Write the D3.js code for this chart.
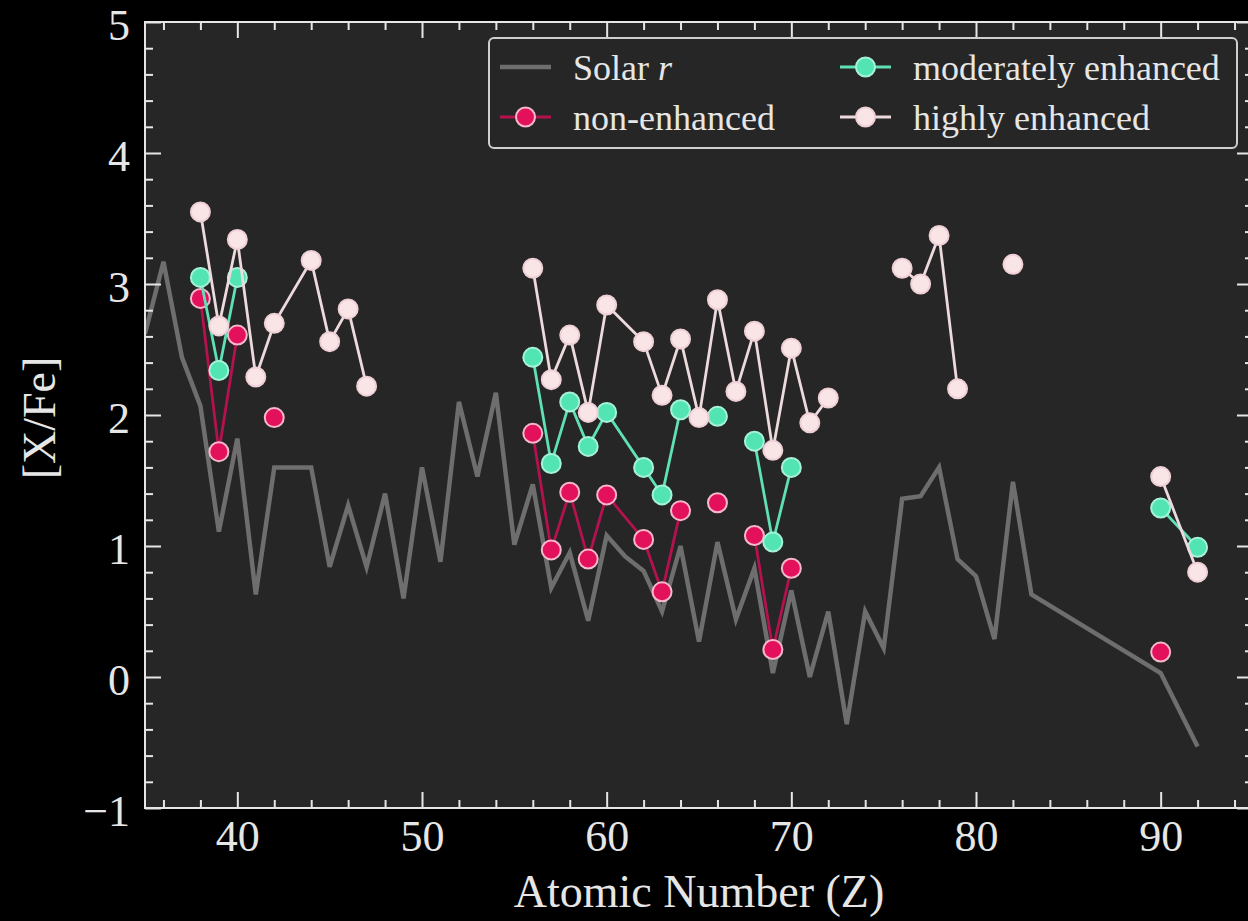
<!DOCTYPE html>
<html>
<head>
<meta charset="utf-8">
<script src="https://cdn.jsdelivr.net/npm/d3@7"></script>
<style>
    html, body { margin: 0; padding: 0; background: #000; }
    svg { display: block; }
</style>
</head>
<body>
<svg id="scene"></svg>
<script>
// solar r-process pattern
let zSolar = [35, 36, 37, 38, 39, 40, 41, 42, 43, 44, 45, 46, 47, 48, 49, 50, 51, 52, 53, 54, 55, 56, 57, 58, 59,
    60, 61, 62, 63, 64, 65, 66, 67, 68, 69, 70, 71, 72, 73, 74, 75, 76, 77, 78, 79, 80, 81, 82, 83, 90, 92]
let solarR = [2.62, 3.17, 2.44, 2.07, 1.11, 1.82, 0.63, 1.60, 1.60, 1.60, 0.84, 1.31, 0.84, 1.40, 0.60, 1.60, 0.88, 2.10, 1.53, 2.17, 1.01, 1.47, 0.68, 0.95, 0.43,
    1.08, 0.92, 0.81, 0.50, 1.00, 0.27, 1.03, 0.44, 0.83, 0.03, 0.66, 0.00, 0.50, -0.36, 0.50, 0.22, 1.36, 1.38, 1.60, 0.90, 0.77, 0.29, 1.49, 0.63, 0.03, -0.53]

// elements of the star groups (null = no value, breaks the line)
let zObs = [38, 39, 40, 41, 42, 44, 45, 46, 47, 48, 49, 50, 51, 52, 53, 54, 55, 56, 57, 58, 59, 60,
    62, 63, 64, 65, 66, 67, 68, 69, 70, 71, 72, 73, 74, 75, 76, 77, 78, 79, 80, 81, 82, 83, 90, 92]
let nonEnhanced = [2.89, 1.72, 2.61, null, 1.98, null, null, null, null, null, null, null, null, null, null, null, null, 1.86, 0.97, 1.41, 0.90, 1.39,
    1.05, 0.65, 1.27, null, 1.33, null, 1.08, 0.21, 0.83, null, null, null, null, null, null, null, null, null, null, null, null, null, 0.19, null]
let moderate = [3.05, 2.34, 3.05, null, null, null, null, null, null, null, null, null, null, null, null, null, null, 2.44, 1.63, 2.10, 1.76, 2.02,
    1.60, 1.39, 2.04, null, 1.99, null, 1.80, 1.03, 1.60, null, null, null, null, null, null, null, null, null, null, null, null, null, 1.29, 0.99]
let highly = [3.55, 2.68, 3.34, 2.29, 2.70, 3.18, 2.56, 2.81, 2.22, null, null, null, null, null, null, null, null, 3.12, 2.27, 2.61, 2.02, 2.84,
    2.56, 2.15, 2.58, 1.98, 2.88, 2.18, 2.64, 1.73, 2.51, 1.94, 2.13, null, null, null, 3.12, 3.00, 3.37, 2.20, null, null, 3.15, null, 1.53, 0.80]

let xMajor = [40, 50, 60, 70, 80, 90]
let yMajor = [-1, 0, 1, 2, 3, 4, 5]

let groups = [
    {name: 'non-enhanced', values: nonEnhanced, line: '#b3124f', fill: '#e3115b', edge: '#f6b8cb'},
    {name: 'moderately enhanced', values: moderate, line: '#5fe0b6', fill: '#52e4b3', edge: '#a6f2d8'},
    {name: 'highly enhanced', values: highly, line: '#eddadd', fill: '#f9e4e6', edge: '#efd0d7'}
]

function init() {
    let width = 1248,
        height = 921,
        left = 145, right = 1253, top = 22, bottom = 808,
        fontFam = '"Liberation Serif", "Times New Roman", serif',
        fg = '#e6e6e6',
        svg = d3.select('#scene').attr('width', width).attr('height', height)

    let xScale = d3.scaleLinear().domain([35, 95]).range([left, right])
    let yScale = d3.scaleLinear().domain([-1, 5]).range([bottom, top])

    svg.append('rect').attr('width', width).attr('height', height).attr('fill', '#000')
    svg.append('rect')
        .attr('x', left).attr('y', top)
        .attr('width', right - left).attr('height', bottom - top)
        .attr('fill', '#262626')

    svg.append('clipPath').attr('id', 'plotclip')
        .append('rect')
        .attr('x', left).attr('y', top)
        .attr('width', right - left).attr('height', bottom - top)

    let plot = svg.append('g').attr('clip-path', 'url(#plotclip)')

    // solar line
    let solarLine = d3.line()
        .x((d, i) => xScale(zSolar[i]))
        .y(d => yScale(d))
    plot.append('path')
        .datum(solarR)
        .attr('d', solarLine)
        .attr('fill', 'none')
        .attr('stroke', '#6e6e6e')
        .attr('stroke-width', 4.5)
        .attr('stroke-linejoin', 'miter')

    let obsLine = d3.line()
        .defined(d => d !== null)
        .x((d, i) => xScale(zObs[i]))
        .y(d => yScale(d))

    groups.forEach(g => {
        plot.append('path')
            .datum(g.values)
            .attr('d', obsLine)
            .attr('fill', 'none')
            .attr('stroke', g.line)
            .attr('stroke-width', 2.8)

        plot.selectAll('circle.' + g.name.replace(/ /g, '_'))
            .data(g.values.map((v, i) => ({z: zObs[i], v: v})).filter(d => d.v !== null))
            .enter()
            .append('circle')
            .attr('class', g.name.replace(/ /g, '_'))
            .attr('cx', d => xScale(d.z))
            .attr('cy', d => yScale(d.v))
            .attr('r', 9.5)
            .attr('fill', g.fill)
            .attr('stroke', g.edge)
            .attr('stroke-width', 2)
    })

    // axes, ticks inward on all sides
    let xMinor = d3.range(36, 95, 2).filter(t => xMajor.indexOf(t) < 0)
    let yMinor = d3.range(-1, 5.001, 0.2).map(t => +t.toFixed(1)).filter(t => yMajor.indexOf(t) < 0)

    function styleAxis(g) {
        g.select('.domain').remove()
        g.selectAll('line').attr('stroke', fg).attr('stroke-width', 2)
        g.selectAll('text').attr('fill', fg).attr('font-family', fontFam).attr('font-size', 44)
    }

    svg.append('g').attr('transform', `translate(0,${bottom})`)
        .call(d3.axisBottom(xScale).tickValues(xMajor).tickSize(-16).tickPadding(12).tickFormat(d3.format('d')))
        .call(styleAxis)
    svg.append('g').attr('transform', `translate(0,${bottom})`)
        .call(d3.axisBottom(xScale).tickValues(xMinor).tickSize(-8).tickFormat(''))
        .call(styleAxis)
    svg.append('g').attr('transform', `translate(0,${top})`)
        .call(d3.axisTop(xScale).tickValues(xMajor).tickSize(-16).tickFormat(''))
        .call(styleAxis)
    svg.append('g').attr('transform', `translate(0,${top})`)
        .call(d3.axisTop(xScale).tickValues(xMinor).tickSize(-8).tickFormat(''))
        .call(styleAxis)

    svg.append('g').attr('class', 'yaxis').attr('transform', `translate(${left},0)`)
        .call(d3.axisLeft(yScale).tickValues(yMajor).tickSize(-16).tickPadding(15).tickFormat(d3.format('d')))
        .call(styleAxis)
    svg.selectAll('.yaxis text').attr('dy', '0.4em')
    svg.append('g').attr('transform', `translate(${left},0)`)
        .call(d3.axisLeft(yScale).tickValues(yMinor).tickSize(-8).tickFormat(''))
        .call(styleAxis)
    svg.append('g').attr('transform', `translate(${right},0)`)
        .call(d3.axisRight(yScale).tickValues(yMajor).tickSize(-16).tickFormat(''))
        .call(styleAxis)
    svg.append('g').attr('transform', `translate(${right},0)`)
        .call(d3.axisRight(yScale).tickValues(yMinor).tickSize(-8).tickFormat(''))
        .call(styleAxis)

    // frame
    svg.append('rect')
        .attr('x', left).attr('y', top)
        .attr('width', right - left).attr('height', bottom - top)
        .attr('fill', 'none')
        .attr('stroke', fg)
        .attr('stroke-width', 2)

    // axis labels
    svg.append('text')
        .attr('x', (left + right) / 2)
        .attr('y', 907)
        .attr('text-anchor', 'middle')
        .attr('fill', fg)
        .attr('font-family', fontFam)
        .attr('font-size', 46)
        .text('Atomic Number (Z)')

    svg.append('text')
        .attr('transform', 'translate(55,418) rotate(-90)')
        .attr('text-anchor', 'middle')
        .attr('fill', fg)
        .attr('font-family', fontFam)
        .attr('font-size', 46)
        .text('[X/Fe]')

    // legend
    let legend = svg.append('g')
    legend.append('rect')
        .attr('x', 489).attr('y', 38)
        .attr('width', 748).attr('height', 110)
        .attr('rx', 5)
        .attr('fill', '#262626')
        .attr('stroke', '#cfcfcf')
        .attr('stroke-width', 2)

    let items = [
        {label: 'Solar', x: 500, y: 67, solar: true},
        {label: groups[0].name, x: 500, y: 117, g: groups[0]},
        {label: groups[1].name, x: 840, y: 67, g: groups[1]},
        {label: groups[2].name, x: 840, y: 117, g: groups[2]}
    ]
    items.forEach(it => {
        legend.append('line')
            .attr('x1', it.x).attr('x2', it.x + 51)
            .attr('y1', it.y).attr('y2', it.y)
            .attr('stroke', it.solar ? '#6e6e6e' : it.g.line)
            .attr('stroke-width', it.solar ? 4.5 : 2.8)
        if (!it.solar) {
            legend.append('circle')
                .attr('cx', it.x + 25.5).attr('cy', it.y)
                .attr('r', 9.5)
                .attr('fill', it.g.fill)
                .attr('stroke', it.g.edge)
                .attr('stroke-width', 2)
        }
        let t = legend.append('text')
            .attr('x', it.x + 73)
            .attr('y', it.y)
            .attr('dy', '0.35em')
            .attr('fill', fg)
            .attr('font-family', fontFam)
            .attr('font-size', 36)
            .text(it.label)
        if (it.solar) {
            t.append('tspan').attr('font-style', 'italic').text(' r')
        }
    })
}

onload = function () {
    init()
}
</script>
</body>
</html>
